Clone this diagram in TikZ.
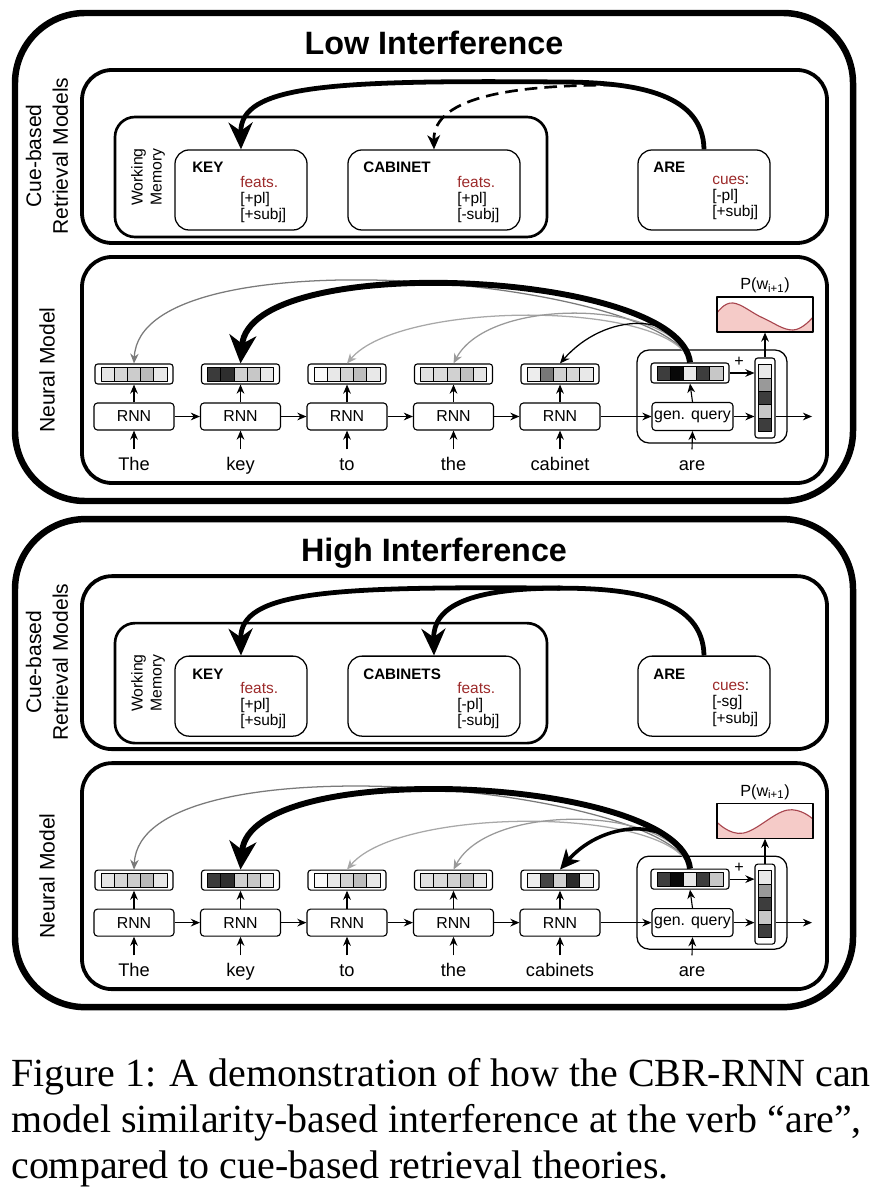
\documentclass[tikz,border=0pt]{standalone}
\usepackage{fontspec}
\setmainfont{Liberation Sans}
\newfontfamily\capfont{Liberation Serif}
\usetikzlibrary{arrows.meta,calc,positioning}

\definecolor{featred}{HTML}{9C2A2A}
\definecolor{plotfill}{HTML}{F5CBC8}
\definecolor{plotline}{HTML}{A8464F}
\definecolor{arcmid}{HTML}{7A7A7A}
\definecolor{arclight}{HTML}{A8A8A8}
\definecolor{arcpale}{HTML}{999999}

% five cells of a state vector, gray levels in percent
\newcommand\cells[2]{%
  \foreach \g [count=\k] in {#2}
    \filldraw[fill=black!\g, draw=black, line width=0.5pt]
      (#1.center) ++({-33+13.2*(\k-1)},-7) rectangle ++(13.2,14);
}
\newcommand\vcells[2]{%
  \foreach \g [count=\k] in {#2}
    \filldraw[fill=black!\g, draw=black, line width=0.5pt]
      (#1.center) ++(-6.5,{-33.5+13.4*(\k-1)}) rectangle ++(13,13.4);
}

\begin{document}
\begin{tikzpicture}[x=0.025cm, y=-0.025cm, line join=round,
  outerbox/.style={line width=4.6pt, rounded corners=1.75cm},
  panelbox/.style={line width=2.7pt, rounded corners=0.75cm},
  wmbox/.style={line width=1.9pt, rounded corners=0.5cm},
  itembox/.style={draw, line width=0.9pt, rounded corners=0.35cm, minimum height=2cm, inner sep=0pt},
  rnn/.style={draw, line width=0.8pt, rounded corners=2.5pt, minimum width=2cm, minimum height=0.675cm, inner sep=0pt, font=\fontsize{11.3}{13}\selectfont},
  vecbox/.style={draw, line width=0.8pt, rounded corners=2pt, minimum width=1.95cm, minimum height=0.5cm, inner sep=0pt},
  word/.style={font=\fontsize{13}{15}\selectfont, text height=9.5pt, text depth=2.5pt, inner xsep=0pt, inner ysep=5pt},
  title/.style={font=\fontsize{23}{26}\selectfont\bfseries, inner sep=0pt},
  sidelab/.style={font=\fontsize{15}{19}\selectfont, align=center, rotate=90, inner sep=0pt},
  wmlab/.style={font=\fontsize{11.2}{13.5}\selectfont, align=center, rotate=90, inner sep=0pt},
  namelab/.style={font=\fontsize{10.8}{12}\selectfont\bfseries, inner sep=0pt, anchor=base west},
  featlab/.style={font=\fontsize{11}{11.5}\selectfont, align=left, inner sep=0pt, anchor=north west},
  plotbox/.style={draw, line width=0.8pt, minimum width=2.4cm, minimum height=0.875cm, inner sep=0pt},
  plab/.style={font=\fontsize{11.5}{13}\selectfont, inner sep=0pt},
  caption/.style={font=\capfont\fontsize{28.4}{33}\selectfont, inner sep=0pt, anchor=base west},
  flow/.style={-{Stealth[length=6.5pt,width=5.5pt]}, line width=0.8pt},
  cuearrow/.style={-{Stealth[length=19pt,width=17pt,inset=6pt]}, line width=3.4pt},
  cuedash/.style={-{Stealth[length=10pt,width=9pt,inset=3pt]}, line width=1.9pt, dash pattern=on 9pt off 5pt},
  attnthick/.style={-{Stealth[length=20pt,width=19pt,inset=6pt]}, line width=4.2pt},
  attnmid/.style={-{Stealth[length=14pt,width=13pt,inset=4pt]}, line width=2.5pt},
  attnthin/.style={-{Stealth[length=7pt,width=6pt]}, line width=0.9pt}]

\useasboundingbox (0,0) rectangle (879,1200);

%%% Low interference
\begin{scope}
\draw[outerbox] (15,13) rectangle (853,501);
\node[title, anchor=base] (L-title) at (434,55) {Low Interference};
\draw[panelbox] (82,70) rectangle (827,243);
\draw[panelbox] (82,257) rectangle (827,483);
\node[sidelab] (L-cuelab) at (47,156) {Cue-based\\Retrieval Models};
\node[sidelab] (L-nmlab) at (47,370) {Neural Model};

% cue-based retrieval
\draw[wmbox] (115,117) rectangle (547,237);
\node[wmlab] (L-wmlab) at (148,177) {Working\\Memory};
\node[itembox, minimum width=3.3cm] (L-key) at (241,190) {};
\node[itembox, minimum width=4.3cm] (L-cab) at (434,190) {};
\node[itembox, minimum width=3.3cm] (L-areb) at (704,190) {};
\node[namelab] (L-keyname) at (192,173) {KEY};
\node[featlab] (L-keyfeat) at (240,176) {\textcolor{featred}{feats.}\\{[+pl]}\\{[+subj]}};
\node[namelab] (L-cabname) at (363,173) {CABINET};
\node[featlab] (L-cabfeat) at (457,176) {\textcolor{featred}{feats.}\\{[+pl]}\\{[-subj]}};
\node[namelab] (L-arename) at (653,173) {ARE};
\node[featlab] (L-arefeat) at (712,176) {\textcolor{featred}{cues}:\\{[-pl]}\\{[+subj]}};

\coordinate (L-top) at (560,82);
\coordinate (L-split) at (616,85);
\draw[cuearrow] (L-areb.north) .. controls (703,95) and (640,82) .. (L-top)
  .. controls (330,80) and (240,85) .. (L-key.north);
\draw[cuedash] (L-split) .. controls (520,85) and (433,95) .. (L-cab.north);

% neural model
\foreach \i/\x/\w in {1/134/The,2/240.5/key,3/347/to,4/453.5/the,5/560/cabinet}{
  \node[rnn] (L-rnn\i) at (\x,416.5) {RNN};
  \node[vecbox] (L-v\i) at (\x,374) {};
  \node[word, anchor=base] (L-w\i) at (\x,470) {\w};
  \draw[flow] (L-w\i.north) -- (L-rnn\i.south);
  \draw[flow] (L-rnn\i.north) -- (L-v\i.south);
}
\foreach \i/\j in {1/2,2/3,3/4,4/5}
  \draw[flow] (L-rnn\i.east) -- (L-rnn\j.west);
\cells{L-v1}{10,16,20,27,9}
\cells{L-v2}{77,82,18,22,9}
\cells{L-v3}{2,9,18,26,9}
\cells{L-v4}{12,14,18,25,10}
\cells{L-v5}{7,53,18,16,9}

\draw[line width=0.9pt, rounded corners=0.3cm] (637,350) rectangle (787,443);
\node[rnn, minimum width=2.025cm, minimum height=0.7cm] (L-gq) at (692.5,416.5) {gen. query};
\node[vecbox] (L-qv) at (690,373) {};
\node[vecbox, minimum width=0.5cm, minimum height=2cm] (L-ov) at (765,398) {};
\node[word, anchor=base] (L-w6) at (692,470) {are};
\node[plab] (L-plus) at (739,362) {+};
\coordinate (L-out) at (812,416.5);
\cells{L-qv}{76,97,9,76,22}
\vcells{L-ov}{9,40,76,22,76}

\fill[plotfill] (717,332) -- plot[smooth, tension=0.7] coordinates
  {(717,313) (733,303) (763,318) (793,330) (813,317)} -- (813,332) -- cycle;
\draw[plotline, line width=0.8pt] plot[smooth, tension=0.7] coordinates
  {(717,313) (733,303) (763,318) (793,330) (813,317)};
\node[plotbox] (L-plot) at (765,314.5) {};
\node[plab, above=2pt of L-plot] (L-plab) {P(w\textsubscript{i+1})};

\draw[flow] (L-rnn5.east) -- (L-gq.west);
\draw[flow] (L-w6.north) -- (L-gq.south);
\draw[flow] (L-gq.north) -- (L-qv.south);
\draw[flow] (L-qv.east) -- (L-qv.east -| L-ov.west);
\draw[flow] (L-gq.east) -- (L-gq.east -| L-ov.west);
\draw[flow] (L-gq.east -| L-ov.east) -- (L-out);
\draw[flow] (L-ov.north) -- (L-plot.south);

% attention over previous states
\draw[attnthin, color=arcmid] (L-qv.north) .. controls (670,280) and (140,230) .. (L-v1.north);
\draw[attnthin, color=arclight] (L-qv.north) .. controls (672,300) and (400,300) .. (L-v3.north);
\draw[attnthin, color=arcpale] (L-qv.north) .. controls (675,300) and (490,295) .. (L-v4.north);
\draw[attnthin, color=black] (L-qv.north) .. controls (680,310) and (605,312) .. (L-v5.north);
\draw[attnthick] (L-qv.north) .. controls (680,270) and (250,250) .. (L-v2.north);
\end{scope}

%%% High interference
\begin{scope}[yshift=-12.65cm]
\draw[outerbox] (15,13) rectangle (853,501);
\node[title, anchor=base] (H-title) at (434,55) {High Interference};
\draw[panelbox] (82,70) rectangle (827,243);
\draw[panelbox] (82,257) rectangle (827,483);
\node[sidelab] (H-cuelab) at (47,156) {Cue-based\\Retrieval Models};
\node[sidelab] (H-nmlab) at (47,370) {Neural Model};

% cue-based retrieval
\draw[wmbox] (115,117) rectangle (547,237);
\node[wmlab] (H-wmlab) at (148,177) {Working\\Memory};
\node[itembox, minimum width=3.3cm] (H-key) at (241,190) {};
\node[itembox, minimum width=4.3cm] (H-cab) at (434,190) {};
\node[itembox, minimum width=3.3cm] (H-areb) at (704,190) {};
\node[namelab] (H-keyname) at (192,173) {KEY};
\node[featlab] (H-keyfeat) at (240,176) {\textcolor{featred}{feats.}\\{[+pl]}\\{[+subj]}};
\node[namelab] (H-cabname) at (363,173) {CABINETS};
\node[featlab] (H-cabfeat) at (457,176) {\textcolor{featred}{feats.}\\{[-pl]}\\{[-subj]}};
\node[namelab] (H-arename) at (653,173) {ARE};
\node[featlab] (H-arefeat) at (712,176) {\textcolor{featred}{cues}:\\{[-sg]}\\{[+subj]}};

\coordinate (H-top) at (560,82);
\draw[cuearrow] (H-areb.north) .. controls (703,95) and (640,82) .. (H-top)
  .. controls (330,80) and (240,85) .. (H-key.north);
\draw[cuearrow] (H-top) .. controls (470,82) and (433,100) .. (H-cab.north);

% neural model
\foreach \i/\x/\w in {1/134/The,2/240.5/key,3/347/to,4/453.5/the,5/560/cabinets}{
  \node[rnn] (H-rnn\i) at (\x,416.5) {RNN};
  \node[vecbox] (H-v\i) at (\x,374) {};
  \node[word, anchor=base] (H-w\i) at (\x,470) {\w};
  \draw[flow] (H-w\i.north) -- (H-rnn\i.south);
  \draw[flow] (H-rnn\i.north) -- (H-v\i.south);
}
\foreach \i/\j in {1/2,2/3,3/4,4/5}
  \draw[flow] (H-rnn\i.east) -- (H-rnn\j.west);
\cells{H-v1}{10,16,20,27,9}
\cells{H-v2}{77,82,18,22,9}
\cells{H-v3}{2,9,18,26,9}
\cells{H-v4}{12,14,18,25,10}
\cells{H-v5}{7,73,18,83,7}

\draw[line width=0.9pt, rounded corners=0.3cm] (637,350) rectangle (787,443);
\node[rnn, minimum width=2.025cm, minimum height=0.7cm] (H-gq) at (692.5,416.5) {gen. query};
\node[vecbox] (H-qv) at (690,373) {};
\node[vecbox, minimum width=0.5cm, minimum height=2cm] (H-ov) at (765,398) {};
\node[word, anchor=base] (H-w6) at (692,470) {are};
\node[plab] (H-plus) at (739,362) {+};
\coordinate (H-out) at (812,416.5);
\cells{H-qv}{76,97,9,76,22}
\vcells{H-ov}{9,40,76,22,76}

\fill[plotfill] (717,332) -- plot[smooth, tension=0.7] coordinates
  {(717,316) (743,327) (787,304) (813,313)} -- (813,332) -- cycle;
\draw[plotline, line width=0.8pt] plot[smooth, tension=0.7] coordinates
  {(717,316) (743,327) (787,304) (813,313)};
\node[plotbox] (H-plot) at (765,314.5) {};
\node[plab, above=2pt of H-plot] (H-plab) {P(w\textsubscript{i+1})};

\draw[flow] (H-rnn5.east) -- (H-gq.west);
\draw[flow] (H-w6.north) -- (H-gq.south);
\draw[flow] (H-gq.north) -- (H-qv.south);
\draw[flow] (H-qv.east) -- (H-qv.east -| H-ov.west);
\draw[flow] (H-gq.east) -- (H-gq.east -| H-ov.west);
\draw[flow] (H-gq.east -| H-ov.east) -- (H-out);
\draw[flow] (H-ov.north) -- (H-plot.south);

% attention over previous states
\draw[attnthin, color=arcmid] (H-qv.north) .. controls (670,280) and (140,230) .. (H-v1.north);
\draw[attnthin, color=arclight] (H-qv.north) .. controls (672,300) and (400,300) .. (H-v3.north);
\draw[attnthin, color=arcpale] (H-qv.north) .. controls (675,300) and (490,295) .. (H-v4.north);
\draw[attnmid] (H-qv.north) .. controls (680,310) and (605,312) .. (H-v5.north);
\draw[attnthick] (H-qv.north) .. controls (680,270) and (250,250) .. (H-v2.north);
\end{scope}

%%% caption
\node[caption] (cap1) at (11,1086) {Figure 1: A demonstration of how the CBR-RNN can};
\node[caption] (cap2) at (11,1132) {model similarity-based interference at the verb “are”,};
\node[caption] (cap3) at (11,1178) {compared to cue-based retrieval theories.};
\end{tikzpicture}
\end{document}
